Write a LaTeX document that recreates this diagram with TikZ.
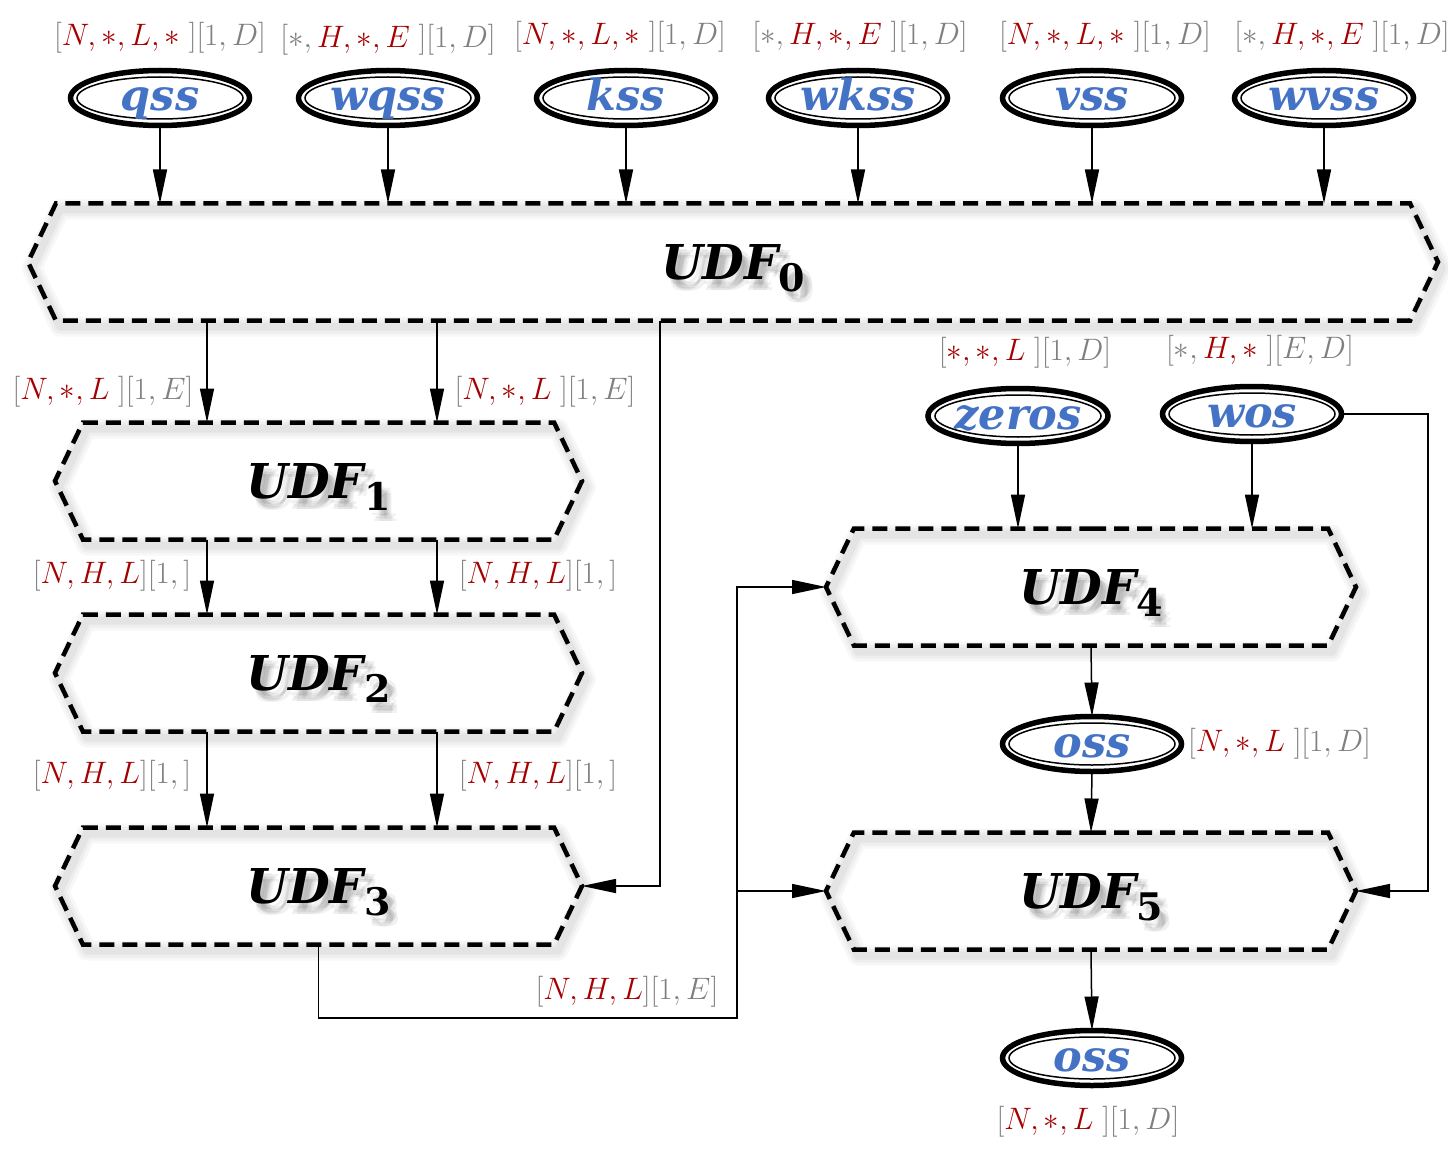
\documentclass[tikz,border=0pt]{standalone}
\usepackage{fix-cm}
\usepackage{fontspec}
\newfontfamily\namefont{DejaVu Serif}
\usetikzlibrary{shapes.symbols,shapes.geometric,arrows.meta,calc}
\definecolor{labred}{RGB}{165,0,0}
\definecolor{labgray}{RGB}{128,128,128}
\definecolor{nameblue}{RGB}{68,114,196}
\newcommand{\udftext}[1]{UDF\raisebox{-0.24em}{\fontsize{38}{38}\selectfont\upshape #1}}
\newcommand{\shstack}[1]{%
  \rlap{\hspace{4pt}\raisebox{-4pt}{\udftext{#1}}}%
  \rlap{\hspace{2pt}\raisebox{-6pt}{\udftext{#1}}}%
  \rlap{\hspace{6pt}\raisebox{-1pt}{\udftext{#1}}}%
  \rlap{\hspace{3pt}\raisebox{-3pt}{\udftext{#1}}}%
  \rlap{\hspace{7pt}\raisebox{-6pt}{\udftext{#1}}}%
  \udftext{#1}}
\newcommand{\udfnode}[4]{%
  \node[shtext,opacity=0.055] (#1s) at ($(#2)+(3,5)$) {\shstack{#4}};
  \node[udf, minimum width=#3pt] (#1) at (#2) {\udftext{#4}};}
\tikzset{
  ell/.style={ellipse, draw, line width=5.5pt, minimum width=179pt, minimum height=55pt,
    inner sep=0pt, outer sep=0pt, text=nameblue, text height=26pt, text depth=0pt,
    font=\namefont\bfseries\itshape\fontsize{43}{43}\selectfont,
    path picture={\draw[line width=1.5pt] (path picture bounding box.center)
      ellipse [x radius=83pt, y radius=21pt];}},
  udf/.style={signal, signal to=west and east, signal pointer angle=129, draw,
    dash pattern=on 15pt off 8pt, line width=4.5pt, minimum height=117pt,
    inner sep=0pt, outer sep=0pt, line join=miter, text depth=0pt,
    font=\namefont\bfseries\itshape\fontsize{48}{48}\selectfont,
    preaction={draw=black, solid, line width=20pt, opacity=0.03, line join=round,
      transform canvas={shift={(4pt,-6pt)}}},
    preaction={draw=black, solid, line width=14pt, opacity=0.035, line join=round,
      transform canvas={shift={(4pt,-6pt)}}},
    preaction={draw=black, solid, line width=8pt, opacity=0.045, line join=round,
      transform canvas={shift={(4pt,-6pt)}}}},
  shtext/.style={text=black, inner sep=0pt, text depth=0pt,
    font=\namefont\bfseries\itshape\fontsize{48}{48}\selectfont},
  lab/.style={inner sep=0pt, text=labgray, font=\fontsize{31}{32}\selectfont},
  arr/.style={-{Triangle[length=34pt,width=14pt]}, line width=1.5pt}
}
\newcommand{\R}[1]{{\color{labred}#1}}
\begin{document}
\begin{tikzpicture}[x=1pt,y=-1pt]
\useasboundingbox (0,0) rectangle (1448,1158);
% top ellipses
\node[ell] (qss)  at (160,98) {qss};
\node[ell] (wqss) at (388,98) {wqss};
\node[ell] (kss)  at (626,98) {kss};
\node[ell] (wkss) at (858,98) {wkss};
\node[ell] (vss)  at (1092,98) {vss};
\node[ell] (wvss) at (1324,98) {wvss};
% top labels
\node[lab] (lqss)  at (160,38)  {$[\R{N,\ast,L,\ast}\;][1,D]$};
\node[lab] (lwqss) at (388,40)  {$[\ast,\R{H,\ast,E}\;][1,D]$};
\node[lab] (lkss)  at (620,37)  {$[\R{N,\ast,L,\ast}\;][1,D]$};
\node[lab] (lwkss) at (860,37)  {$[\ast,\R{H,\ast,E}\;][1,D]$};
\node[lab] (lvss)  at (1105,37) {$[\R{N,\ast,L,\ast}\;][1,D]$};
\node[lab] (lwvss) at (1342,37) {$[\ast,\R{H,\ast,E}\;][1,D]$};
% UDF nodes
\udfnode{u0}{733,262}{1410}{0}
\udfnode{u1}{318.5,481}{527}{1}
\udfnode{u2}{318.5,673}{527}{2}
\udfnode{u3}{318.5,886}{527}{3}
\udfnode{u4}{1091,587}{530}{4}
\udfnode{u5}{1091,891}{530}{5}
% right ellipses
\node[ell] (zeros) at (1018,416) {zeros};
\node[ell] (wos)   at (1252,414) {wos};
\node[ell] (oss1)  at (1092,744) {oss};
\node[ell] (oss2)  at (1092,1058) {oss};
% other labels
\node[lab] (l01a) at (103,392) {$[\R{N,\ast,L}\;][1,E]$};
\node[lab] (l01b) at (545,392) {$[\R{N,\ast,L}\;][1,E]$};
\node[lab] (l12a) at (112,576) {$[\R{N,H,L}][1,]$};
\node[lab] (l12b) at (538,576) {$[\R{N,H,L}][1,]$};
\node[lab] (l23a) at (112,776) {$[\R{N,H,L}][1,]$};
\node[lab] (l23b) at (538,776) {$[\R{N,H,L}][1,]$};
\node[lab] (l3x)  at (627,992) {$[\R{N,H,L}][1,E]$};
\node[lab] (lzer) at (1025,353) {$[\R{\ast,\ast,L}\;][1,D]$};
\node[lab] (lwos) at (1260,351) {$[\ast,\R{H,\ast}\;][E,D]$};
\node[lab,anchor=west] (loss1) at (1188,744) {$[\R{N,\ast,L}\;][1,D]$};
\node[lab] (loss2) at (1088,1122) {$[\R{N,\ast,L}\;][1,D]$};
% connectors from top ellipses
\foreach \n in {qss,wqss,kss,wkss,vss,wvss}
  \draw[arr] (\n.south) -- (\n.south |- u0.north);
% UDF0 -> UDF1 -> UDF2 -> UDF3
\coordinate (a1) at ([xshift=-111.5pt]u1.north);
\coordinate (a2) at ([xshift=118.5pt]u1.north);
\draw[arr] (a1 |- u0.south) -- (a1);
\draw[arr] (a2 |- u0.south) -- (a2);
\draw[arr] (a1 |- u1.south) -- (a1 |- u2.north);
\draw[arr] (a2 |- u1.south) -- (a2 |- u2.north);
\draw[arr] (a1 |- u2.south) -- (a1 |- u3.north);
\draw[arr] (a2 |- u2.south) -- (a2 |- u3.north);
% UDF0 -> UDF3
\coordinate (c0) at ([xshift=-73pt]u0.south);
\draw[arr] (c0) |- (u3.east);
% UDF3 -> UDF4, UDF5
\coordinate (b1) at (737,1018);
\draw[arr] (u3.south) |- (b1) |- (u4.west);
\draw[arr] (b1 |- u5.west) -- (u5.west);
% zeros, wos -> UDF4
\draw[arr] (zeros.south) -- (zeros.south |- u4.north);
\draw[arr] (wos.south) -- (wos.south |- u4.north);
\coordinate (w1) at (1428,414);
\draw[arr] (wos.east) -| (w1) |- (u5.east);
% UDF4 -> oss -> UDF5 -> oss
\draw[arr] (u4.south) -- (oss1.north);
\draw[arr] (oss1.south) -- (u5.north);
\draw[arr] (u5.south) -- (oss2.north);
\end{tikzpicture}
\end{document}
